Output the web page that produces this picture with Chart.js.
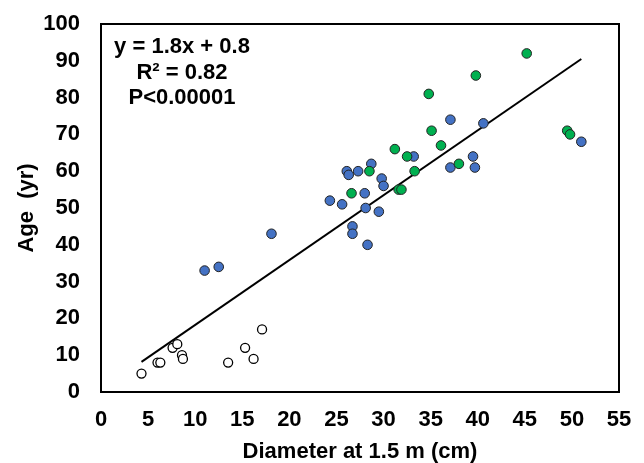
<!DOCTYPE html>
<html>
<head>
<meta charset="utf-8">
<script src="https://cdn.jsdelivr.net/npm/chart.js@4.4.1/dist/chart.umd.min.js"></script>
<style>
  html, body { margin: 0; padding: 0; background: #fff; }
  #wrap { width: 644px; height: 463px; position: relative; }
</style>
</head>
<body>
<div id="wrap"><canvas id="ageChart"></canvas></div>
<script>
// open circles
const openX = [4.3, 6.0, 6.3, 7.6, 8.1, 8.6, 8.7, 13.5, 15.3, 16.2, 17.1];
const openY = [5, 8, 8, 12, 13, 10, 9, 8, 12, 9, 17];

// blue circles
const blueX = [11.0, 12.5, 18.1, 24.3, 25.6, 26.1, 26.3, 26.7, 26.7, 27.3, 28.0, 28.1, 28.3, 28.7, 29.5, 29.8, 30.0, 33.2, 37.1, 37.1, 39.5, 39.7, 40.6, 51.0];
const blueY = [33, 34, 43, 52, 51, 60, 59, 45, 43, 60, 54, 50, 40, 62, 49, 58, 56, 64, 61, 74, 64, 61, 73, 68];

// green circles
const greenX = [26.6, 28.5, 31.2, 31.6, 31.9, 32.5, 33.3, 34.8, 35.1, 36.1, 38.0, 39.8, 45.2, 49.5, 49.8];
const greenY = [54, 60, 66, 55, 55, 64, 60, 81, 71, 67, 62, 86, 92, 71, 70];

// fitted line ends
const fitX = [4.3, 51.0];
const fitY = [8.2, 90.5];

const xTicks = [0, 5, 10, 15, 20, 25, 30, 35, 40, 45, 50, 55];
const yTicks = [0, 10, 20, 30, 40, 50, 60, 70, 80, 90, 100];

const statLines = ['y = 1.8x + 0.8', 'R\u00b2 = 0.82', 'P<0.00001'];

function toPoints(xs, ys) {
    return xs.map((x, i) => ({ x: x, y: ys[i] }));
}

const boxPlugin = {
    id: 'boxPlugin',
    afterDraw(chart) {
        const { ctx, chartArea } = chart;
        ctx.save();
        ctx.strokeStyle = '#000';
        ctx.lineWidth = 2;
        ctx.strokeRect(chartArea.left, chartArea.top, chartArea.right - chartArea.left, chartArea.bottom - chartArea.top);
        ctx.fillStyle = '#000';
        ctx.font = 'bold 22px "Liberation Sans", Arial, sans-serif';
        ctx.textAlign = 'center';
        ctx.textBaseline = 'middle';
        const cx = 182;
        statLines.forEach((t, i) => {
            ctx.fillText(t, cx, 47 + i * 25.5);
        });
        ctx.restore();
    }
};

const tickFont = { family: '"Liberation Sans", Arial, sans-serif', size: 22, weight: 'bold' };

const ctx = document.getElementById('ageChart').getContext('2d');
const ageChart = new Chart(ctx, {
    type: 'scatter',
    data: {
        datasets: [
            {
                type: 'line',
                data: toPoints(fitX, fitY),
                borderColor: '#000',
                borderWidth: 2,
                pointRadius: 0,
                fill: false,
                order: 4
            },
            {
                data: toPoints(openX, openY),
                backgroundColor: '#fff',
                borderColor: '#000',
                borderWidth: 1.3,
                pointRadius: 4.5,
                order: 3
            },
            {
                data: toPoints(blueX, blueY),
                backgroundColor: '#4472C4',
                borderColor: '#222',
                borderWidth: 1,
                pointRadius: 4.8,
                order: 2
            },
            {
                data: toPoints(greenX, greenY),
                backgroundColor: '#00B050',
                borderColor: '#222',
                borderWidth: 1,
                pointRadius: 4.8,
                order: 1
            }
        ]
    },
    options: {
        responsive: true,
        maintainAspectRatio: false,
        animation: false,
        layout: { padding: { left: 0, right: 25, top: 24, bottom: 0 } },
        plugins: {
            legend: { display: false },
            tooltip: { enabled: false }
        },
        scales: {
            x: {
                type: 'linear',
                min: 0,
                max: 55,
                afterBuildTicks(scale) {
                    scale.ticks = xTicks.map(v => ({ value: v }));
                },
                afterFit(scale) {
                    scale.height = 71;
                    scale.paddingLeft = 0;
                    scale.paddingRight = 0;
                },
                grid: { display: false, drawTicks: false },
                border: { display: false },
                ticks: { color: '#000', font: tickFont, padding: 15, maxRotation: 0, autoSkip: false },
                title: {
                    display: true,
                    text: 'Diameter at 1.5 m (cm)',
                    color: '#000',
                    font: tickFont,
                    padding: { top: 0, bottom: -2 }
                }
            },
            y: {
                type: 'linear',
                min: 0,
                max: 100,
                afterBuildTicks(scale) {
                    scale.ticks = yTicks.map(v => ({ value: v }));
                },
                afterFit(scale) {
                    scale.width = 101;
                    scale.paddingTop = 0;
                    scale.paddingBottom = 0;
                },
                grid: { display: false, drawTicks: false },
                border: { display: false },
                ticks: { color: '#000', font: tickFont, padding: 21, autoSkip: false },
                title: {
                    display: true,
                    text: 'Age  (yr)',
                    color: '#000',
                    font: tickFont,
                    padding: { top: 14, bottom: 0 }
                }
            }
        }
    },
    plugins: [boxPlugin]
});
</script>
</body>
</html>
